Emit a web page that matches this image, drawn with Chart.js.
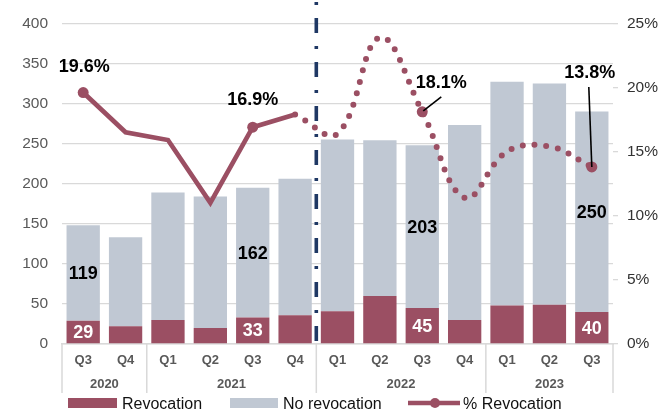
<!DOCTYPE html>
<html>
<head>
<meta charset="utf-8">
<script src="https://cdn.jsdelivr.net/npm/chart.js@4.4.1/dist/chart.umd.min.js"></script>
<style>
  html, body { margin: 0; padding: 0; background: #fff; }
  #wrap { width: 672px; height: 413px; }
</style>
</head>
<body>
<div id="wrap"><canvas id="revChart" width="672" height="413"></canvas></div>
<script>
const quarters = ['Q3', 'Q4', 'Q1', 'Q2', 'Q3', 'Q4', 'Q1', 'Q2', 'Q3', 'Q4', 'Q1', 'Q2', 'Q3'];
const years = ['2020', '2020', '2021', '2021', '2021', '2021', '2022', '2022', '2022', '2022', '2023', '2023', '2023'];
const revocation = [29, 22, 30, 20, 33, 36, 41, 60, 45, 30, 48, 49, 40];
const noRevocation = [119, 111, 159, 164, 162, 170, 214, 194, 203, 243, 279, 276, 250];
const pctRevocation = [19.6, 16.5, 15.9, 11.0, 16.9, 17.9, 16.4, 23.9, 18.1, 11.4, 15.0, 15.4, 13.8];
const leftTicks = [0, 50, 100, 150, 200, 250, 300, 350, 400];
const rightTicks = [0, 5, 10, 15, 20, 25];
// periods that carry value labels, and the last period of the solid line
const labelledPeriods = [0, 4, 8, 12];
const dottedFrom = 5;

const MAROON = '#9B4F63';
const GREY = '#C0C8D3';
const FONT = '"Liberation Sans", Arial, sans-serif';
Chart.defaults.font.family = FONT;

const solidPart = pctRevocation.map((v, i) => (i <= dottedFrom ? v : null));
const dottedPart = pctRevocation.map((v, i) => (i >= dottedFrom ? v : null));
const markerRadius = ctx => (labelledPeriods.includes(ctx.dataIndex) ? 5.5 : 0);

// label offsets relative to the line point: [dx, dy, leader line?]
const pctLabelPos = { 0: [1, -26, false], 4: [0, -27, false], 8: [19, -29, true], 12: [-2, -94, true] };

const overlay = {
    id: 'overlay',
    beforeDatasetsDraw(chart) {
        const { ctx, chartArea, scales: { x } } = chart;
        const xs = (x.getPixelForValue(dottedFrom) + x.getPixelForValue(dottedFrom + 1)) / 2;
        ctx.save();
        ctx.strokeStyle = '#1F3864';
        ctx.lineWidth = 3.6;
        ctx.setLineDash([3, 13, 15, 13]);
        ctx.beginPath();
        ctx.moveTo(xs, 2);
        ctx.lineTo(xs, chartArea.bottom - 2);
        ctx.stroke();
        ctx.restore();
    },
    afterDatasetsDraw(chart) {
        const { ctx } = chart;
        const revMeta = chart.getDatasetMeta(2);
        const noRevMeta = chart.getDatasetMeta(3);
        const solidMeta = chart.getDatasetMeta(0);
        const dotMeta = chart.getDatasetMeta(1);
        ctx.save();
        ctx.textAlign = 'center';
        ctx.textBaseline = 'middle';
        ctx.font = 'bold 18px ' + FONT;
        labelledPeriods.forEach(i => {
            const nb = noRevMeta.data[i];
            ctx.fillStyle = '#000';
            ctx.fillText(String(noRevocation[i]), nb.x, (nb.y + nb.base) / 2 + 1);
            const rb = revMeta.data[i];
            ctx.fillStyle = '#fff';
            ctx.fillText(String(revocation[i]), rb.x, (rb.y + rb.base) / 2 + 1);

            const p = (i <= dottedFrom ? solidMeta : dotMeta).data[i];
            const [dx, dy, leader] = pctLabelPos[i];
            if (leader) {
                ctx.strokeStyle = '#000';
                ctx.lineWidth = 1.6;
                ctx.beginPath();
                if (dx > 5) {
                    ctx.moveTo(p.x + 1, p.y - 1);
                    ctx.lineTo(p.x + dx, p.y + dy + 14);
                } else {
                    ctx.moveTo(p.x, p.y);
                    ctx.lineTo(p.x - 3, p.y + dy + 14);
                }
                ctx.stroke();
            }
            ctx.fillStyle = '#000';
            ctx.fillText(pctRevocation[i].toFixed(1) + '%', p.x + dx, p.y + dy);
        });
        ctx.restore();
    },
    afterDraw(chart) {
        const { ctx, chartArea, scales: { x } } = chart;
        const px = i => x.getPixelForValue(i);
        // year groups under the quarter labels
        const bounds = [chartArea.left];
        const groups = [];
        let start = 0;
        for (let i = 1; i <= years.length; i++) {
            if (i === years.length || years[i] !== years[i - 1]) {
                const right = i === years.length ? chartArea.right : (px(i - 1) + px(i)) / 2;
                groups.push([years[start], bounds[bounds.length - 1], right]);
                bounds.push(right);
                start = i;
            }
        }
        ctx.save();
        ctx.strokeStyle = '#D9D9D9';
        ctx.lineWidth = 1.5;
        bounds.forEach(b => {
            ctx.beginPath();
            ctx.moveTo(b, chartArea.bottom);
            ctx.lineTo(b, chartArea.bottom + 49);
            ctx.stroke();
        });
        ctx.fillStyle = '#595959';
        ctx.font = 'bold 13px ' + FONT;
        ctx.textAlign = 'center';
        ctx.textBaseline = 'middle';
        groups.forEach(([label, l, r]) => ctx.fillText(label, (l + r) / 2, chartArea.bottom + 40));

        // legend
        const ly = 403;
        ctx.font = '16px ' + FONT;
        ctx.textAlign = 'left';
        ctx.textBaseline = 'alphabetic';
        ctx.fillStyle = MAROON;
        ctx.fillRect(68, ly - 5, 49, 10);
        ctx.fillStyle = '#111';
        ctx.fillText('Revocation', 122, ly + 6);
        ctx.fillStyle = GREY;
        ctx.fillRect(230, ly - 5, 48, 10);
        ctx.fillStyle = '#111';
        ctx.fillText('No revocation', 283, ly + 6);
        ctx.strokeStyle = MAROON;
        ctx.lineWidth = 4.5;
        ctx.beginPath();
        ctx.moveTo(408, ly);
        ctx.lineTo(460, ly);
        ctx.stroke();
        ctx.fillStyle = MAROON;
        ctx.beginPath();
        ctx.arc(435, ly, 5, 0, Math.PI * 2);
        ctx.fill();
        ctx.fillStyle = '#111';
        ctx.fillText('% Revocation', 463, ly + 6);
        ctx.restore();
    }
};

new Chart(document.getElementById('revChart'), {
    type: 'bar',
    data: {
        labels: quarters,
        datasets: [
            {
                type: 'line',
                label: '% Revocation',
                data: solidPart,
                yAxisID: 'y1',
                borderColor: MAROON,
                backgroundColor: MAROON,
                borderWidth: 4.7,
                tension: 0,
                pointRadius: markerRadius,
                pointBorderWidth: 0,
                pointBackgroundColor: MAROON,
                order: 0
            },
            {
                type: 'line',
                label: '% Revocation (dotted)',
                data: dottedPart,
                yAxisID: 'y1',
                borderColor: MAROON,
                backgroundColor: MAROON,
                borderWidth: 6,
                borderDash: [0, 11.8],
                borderCapStyle: 'round',
                tension: 0.4,
                pointRadius: markerRadius,
                pointBorderWidth: 0,
                pointBackgroundColor: MAROON,
                order: 0
            },
            {
                label: 'Revocation',
                data: revocation,
                yAxisID: 'y',
                backgroundColor: MAROON,
                barPercentage: 0.786,
                categoryPercentage: 1,
                order: 1
            },
            {
                label: 'No revocation',
                data: noRevocation,
                yAxisID: 'y',
                backgroundColor: GREY,
                barPercentage: 0.786,
                categoryPercentage: 1,
                order: 1
            }
        ]
    },
    options: {
        responsive: false,
        animation: false,
        layout: { padding: { top: 23, left: 0, right: 0, bottom: 0 } },
        plugins: {
            legend: { display: false },
            tooltip: { enabled: false }
        },
        scales: {
            x: {
                stacked: true,
                grid: { display: false, drawTicks: false },
                border: { display: true, color: '#D9D9D9', width: 1.5 },
                ticks: {
                    color: '#595959',
                    font: { size: 13, weight: 'bold' },
                    padding: 9,
                    maxRotation: 0,
                    autoSkip: false
                },
                afterFit: s => { s.height = 69; }
            },
            y: {
                stacked: true,
                min: 0,
                max: 400,
                afterBuildTicks: s => { s.ticks = leftTicks.map(v => ({ value: v })); },
                grid: { color: '#D9D9D9', lineWidth: 1.3, drawTicks: false },
                border: { display: false },
                ticks: { color: '#595959', font: { size: 15.5 }, padding: 14 },
                afterFit: s => { s.width = 62; }
            },
            y1: {
                position: 'right',
                min: 0,
                max: 25,
                afterBuildTicks: s => { s.ticks = rightTicks.map(v => ({ value: v })); },
                grid: { drawOnChartArea: false, color: '#D9D9D9', tickLength: 5, lineWidth: 1.3 },
                border: { display: false },
                ticks: { color: '#333', font: { size: 15.5 }, padding: 9, callback: v => v + '%' },
                afterFit: s => { s.width = 59; }
            }
        }
    },
    plugins: [overlay]
});
</script>
</body>
</html>
